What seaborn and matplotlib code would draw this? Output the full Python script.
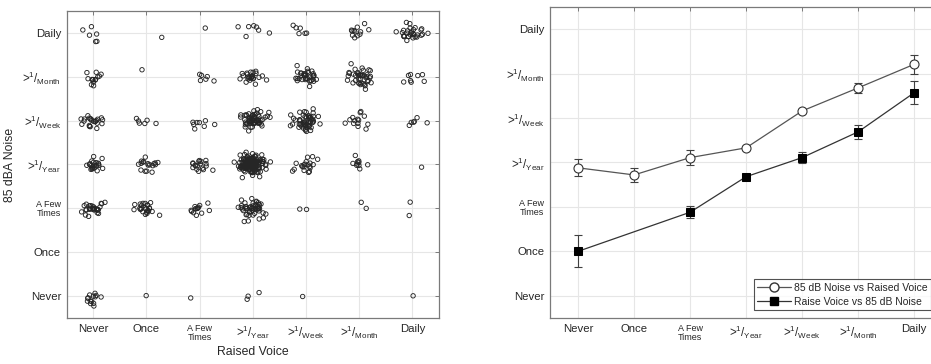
import numpy as np
import pandas as pd
import matplotlib
matplotlib.use("Agg")
import matplotlib.pyplot as plt
from matplotlib.lines import Line2D
import seaborn as sns

sns.set_theme(style="white")
plt.rcParams['font.family'] = ['Liberation Sans', 'DejaVu Sans']
plt.rcParams['mathtext.fontset'] = 'custom'
plt.rcParams['mathtext.rm'] = 'Liberation Sans'
plt.rcParams['mathtext.it'] = 'Liberation Sans'

# ---------------- data ----------------
levels = ['Never', 'Once', 'A Few\nTimes',
          r'>$\mathregular{^{1}/_{Year}}$',
          r'>$\mathregular{^{1}/_{Week}}$',
          r'>$\mathregular{^{1}/_{Month}}$',
          'Daily']

# counts of respondents: rows = 85 dBA Noise level (Never..Daily), cols = Raised Voice level (Never..Daily)
count_never = [14, 1, 1, 3, 1, 0, 1]
count_once = [0, 0, 0, 0, 0, 0, 0]
count_few = [30, 25, 14, 50, 2, 2, 2]
count_year = [22, 18, 18, 150, 20, 10, 1]
count_week = [22, 6, 8, 60, 55, 14, 6]
count_month = [14, 1, 6, 25, 35, 40, 8]
count_daily = [6, 1, 1, 7, 6, 12, 30]

# right panel: mean response per category with error
noise_vs_voice_mean = [2.88, 2.72, 3.11, 3.33, 4.16, 4.68, 5.21]
noise_vs_voice_err = [0.19, 0.16, 0.17, 0.05, 0.05, 0.12, 0.21]
voice_vs_noise_mean = [1.00, np.nan, 1.88, 2.68, 3.11, 3.69, 4.57]
voice_vs_noise_err = [0.36, np.nan, 0.14, 0.06, 0.12, 0.16, 0.26]

# ---------------- build scatter table ----------------
rows = [count_never, count_once, count_few, count_year, count_week, count_month, count_daily]
rng = np.random.default_rng(7)
xs, ys = [], []
for yi, row in enumerate(rows):
    for xi, n in enumerate(row):
        if n == 0:
            continue
        sx = 0.11 if n < 40 else 0.13
        sy = 0.09 if n < 40 else 0.11
        jx = np.clip(rng.normal(0, sx, n), -0.35, 0.35)
        jy = np.clip(rng.normal(0, sy, n), -0.30, 0.30)
        xs.extend(xi + jx)
        ys.extend(yi + jy)
scatter_df = pd.DataFrame({'Raised Voice': xs, 'Noise': ys})

idx = np.arange(len(levels))
line_df1 = pd.DataFrame({'x': idx, 'y': noise_vs_voice_mean})
line_df2 = pd.DataFrame({'x': idx, 'y': voice_vs_noise_mean}).dropna()

# ---------------- figure ----------------
fig = plt.figure(figsize=(9.31, 3.64), dpi=100)
ax1 = fig.add_axes([0.0716, 0.1264, 0.400, 0.8434])
ax2 = fig.add_axes([0.5908, 0.1264, 0.4092, 0.8544])

spine_col = '#7a7a7a'
text_col = '#262626'
grid_col = '#e6e6e6'

sns.scatterplot(data=scatter_df, x='Raised Voice', y='Noise', ax=ax1,
                marker='o', s=10, facecolor='none', edgecolor='#262626',
                linewidth=0.65, legend=False)

ax1.set_xlim(-0.5, 6.5)
ax1.set_ylim(-0.5, 6.5)
ax1.set_xlabel('Raised Voice', fontsize=8.8, color=text_col, labelpad=3)
ax1.set_ylabel('85 dBA Noise', fontsize=8.8, color=text_col)
ax1.yaxis.set_label_coords(-0.135, 0.5)

# right panel
ax2.errorbar(line_df1['x'], line_df1['y'], yerr=noise_vs_voice_err, fmt='none',
             ecolor='#404040', elinewidth=0.8, capsize=3, capthick=0.8, zorder=2)
ax2.errorbar(idx, voice_vs_noise_mean, yerr=voice_vs_noise_err, fmt='none',
             ecolor='#404040', elinewidth=0.8, capsize=3, capthick=0.8, zorder=2)
sns.lineplot(data=line_df1, x='x', y='y', ax=ax2, color='#555555', linewidth=0.9,
             marker='o', markersize=6.5, markerfacecolor='white',
             markeredgecolor='#333333', markeredgewidth=0.8, zorder=3)
sns.lineplot(data=line_df2, x='x', y='y', ax=ax2, color='#333333', linewidth=0.9,
             marker='s', markersize=5.2, markerfacecolor='black',
             markeredgecolor='black', zorder=3)
ax2.set_xlim(-0.5, 6.3)
ax2.set_ylim(-0.5, 6.5)
ax2.set_xlabel('')
ax2.set_ylabel('')

handles = [
    Line2D([0], [0], color='#555555', lw=0.9, marker='o', markersize=6.5,
           markerfacecolor='white', markeredgecolor='#333333'),
    Line2D([0], [0], color='#333333', lw=0.9, marker='s', markersize=5.2,
           markerfacecolor='black', markeredgecolor='black'),
]
leg = ax2.legend(handles, ['85 dB Noise vs Raised Voice', 'Raise Voice vs 85 dB Noise'],
                 loc='lower right', bbox_to_anchor=(1.0, 0.025), borderaxespad=0,
                 fontsize=7.5, frameon=True, fancybox=False, handlelength=3.2,
                 handletextpad=0.3, borderpad=0.35, labelspacing=0.35)
leg.get_frame().set_edgecolor('#262626')
leg.get_frame().set_linewidth(0.8)
for t in leg.get_texts():
    t.set_color(text_col)

for ax in (ax1, ax2):
    ax.set_xticks(idx)
    ax.set_yticks(idx)
    ax.set_xticklabels(levels)
    ax.set_yticklabels(levels)
    ax.grid(True, color=grid_col, linewidth=0.8)
    ax.set_axisbelow(True)
    ax.tick_params(direction='in', length=3, width=0.7, color=spine_col,
                   labelcolor=text_col, labelsize=8.2, top=True, right=True, pad=4)
    for sp in ax.spines.values():
        sp.set_color(spine_col)
        sp.set_linewidth(0.9)
    for lab in ax.get_xticklabels() + ax.get_yticklabels():
        txt = lab.get_text()
        if 'Few' in txt:
            lab.set_fontsize(6.5)
            lab.set_linespacing(1.0)
        elif 'mathregular' in txt:
            lab.set_fontsize(8.3)

ax2.spines['right'].set_visible(False)
ax2.tick_params(right=False)

fig.savefig('out.png', dpi=100, facecolor='white')
